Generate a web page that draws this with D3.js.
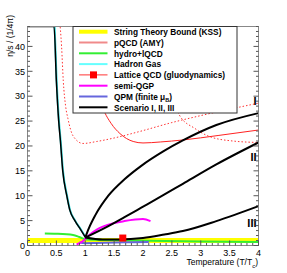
<!DOCTYPE html>
<html>
<head>
<meta charset="utf-8">
<script src="https://cdn.jsdelivr.net/npm/d3@7"></script>
<style>
  body { margin: 0; background: #fff; }
  text { font-family: "Liberation Sans", Arial, sans-serif; }
</style>
</head>
<body>
<div id="chart"></div>
<script>
// curves: [T/Tc, eta/s in units of 1/4pi]
const kssBound = [[0, 1], [4, 1]];
const hadronGas = [[0, 44], [0.46, 44], [0.5, 33], [0.54, 25], [0.57, 21], [0.61, 15], [0.68, 10], [0.73, 7.2], [0.82, 5], [0.92, 3.2], [1.0, 1.7]];
const hadronGasCyan = [[0.47, 44], [0.505, 33], [0.545, 25], [0.575, 21], [0.615, 15], [0.685, 10], [0.735, 7.2], [0.825, 5], [0.925, 3.2], [1.005, 1.7]];
const hydroLqcd = [[0.3, 2.4], [0.5, 2.35], [0.79, 2.1], [0.9, 1.7], [1.02, 1.2], [1.5, 1.1], [2.4, 0.9], [3, 0.8], [4, 0.7]];
const semiQgp = [[0.85, 0.2], [0.95, 0.8], [1.08, 2.2], [1.2, 3.2], [1.4, 4.2], [1.68, 4.9], [2.0, 5.3], [2.13, 4.9]];
const qpm = [[0.9, 0.6], [1.0, 0.45], [1.2, 0.5], [1.5, 0.6], [1.8, 0.65], [2.1, 0.7]];
const latticePoints = [[1.65, 1.5]];
const pqcdDotted = [[0.55, 46], [0.59, 40], [0.62, 33], [0.66, 28], [0.70, 25.5], [0.79, 22], [0.96, 20.5], [1.2, 20.9], [1.5, 21.6], [1.94, 22.9], [2.5, 24.7], [3, 26.1], [4, 28.6]];
const pqcdDotted2 = [[2.35, 34], [2.5, 29.5], [2.63, 26.2], [2.9, 23.5], [3.15, 21.9], [3.55, 21], [4, 20.7]];
const pqcdSolid = [[1.15, 34], [1.31, 27.5], [1.45, 24.5], [1.6, 22.5], [1.83, 20.9], [2.0, 20.6], [2.3, 20.8], [2.69, 21.2], [3.3, 22.1], [4, 23.2]];
const scenarioI = [[1.0, 1.6], [1.06, 3.4], [1.17, 6.0], [1.4, 10.0], [1.68, 13.3], [1.97, 16.0], [2.35, 18.9], [2.69, 21.1], [3.27, 24.2], [4, 26.6]];
const scenarioII = [[1.0, 1.6], [1.4, 3.9], [1.68, 5.7], [1.97, 7.6], [2.35, 10.1], [2.69, 12.4], [3.27, 16.3], [4, 20.7]];
const scenarioIII = [[1.0, 1.6], [1.3, 1.2], [1.6, 1.2], [2.0, 1.5], [2.37, 2.2], [2.69, 2.9], [3.27, 4.9], [4, 7.9]];
const scenarioLabels = [["I", 28.2], ["II", 17.0], ["III", 3.7]];

const xTicks = [0, 0.5, 1, 1.5, 2, 2.5, 3, 3.5, 4];
const yTicks = [0, 5, 10, 15, 20, 25, 30, 35, 40];

const legendItems = [
  { label: "String Theory Bound (KSS)", color: "#ffff00", width: 4 },
  { label: "pQCD (AMY)", color: "#f08a8a", width: 2 },
  { label: "hydro+lQCD", color: "#33ee33", width: 2 },
  { label: "Hadron Gas", color: "#66ffff", width: 2 },
  { label: "Lattice QCD (gluodynamics)", color: "#ff3333", width: 1, marker: true },
  { label: "semi-QGP", color: "#ff00ff", width: 2 },
  { label: "QPM (finite \u03bc", sub: "B", after: ")", color: "#6666dd", width: 2 },
  { label: "Scenario I, II, III", color: "#000000", width: 2 }
];

const width = 287, height = 273;
const x = d3.scaleLinear().domain([0, 4]).range([27.5, 258.5]);
const y = d3.scaleLinear().domain([0, 44]).range([245.5, 26.5]);

const svg = d3.select("#chart").append("svg")
  .attr("width", width)
  .attr("height", height);

svg.append("clipPath").attr("id", "clip")
  .append("rect")
  .attr("x", x(0)).attr("y", y(44))
  .attr("width", x(4) - x(0)).attr("height", y(0) - y(44));

const line = d3.line().x(d => x(d[0])).y(d => y(d[1])).curve(d3.curveMonotoneX);
const plot = svg.append("g").attr("clip-path", "url(#clip)");

const drawCurve = (data, color, w, dash) => {
  plot.append("path")
    .datum(data)
    .attr("d", line)
    .attr("fill", "none")
    .attr("stroke", color)
    .attr("stroke-width", w)
    .attr("stroke-dasharray", dash || null);
};

// red pQCD curves sit behind everything
drawCurve(pqcdDotted, "#ff3333", 1, "1.5,2");
drawCurve(pqcdDotted2, "#ff3333", 1, "1.5,2");
drawCurve(pqcdSolid, "#ff2222", 1);

drawCurve(kssBound, "#ffff00", 5);
drawCurve(hydroLqcd, "#33ee33", 2);
drawCurve(qpm, "#6666dd", 2);
drawCurve(semiQgp, "#ff00ff", 2);
drawCurve(hadronGasCyan, "#33dddd", 2);
drawCurve(hadronGas, "#000000", 1.5);
drawCurve(scenarioI, "#000000", 2);
drawCurve(scenarioII, "#000000", 2);
drawCurve(scenarioIII, "#000000", 2);

plot.selectAll("rect.lat")
  .data(latticePoints)
  .enter().append("rect")
  .attr("class", "lat")
  .attr("x", d => x(d[0]) - 3.5)
  .attr("y", d => y(d[1]) - 3.5)
  .attr("width", 7).attr("height", 7)
  .attr("fill", "#ff0000");

svg.selectAll("text.scen")
  .data(scenarioLabels)
  .enter().append("text")
  .attr("class", "scen")
  .attr("x", 256.5)
  .attr("y", d => y(d[1]))
  .attr("text-anchor", "end")
  .attr("font-size", 11)
  .attr("font-weight", "bold")
  .text(d => d[0]);

// frame
svg.append("rect")
  .attr("x", x(0)).attr("y", y(44))
  .attr("width", x(4) - x(0)).attr("height", y(0) - y(44))
  .attr("fill", "none")
  .attr("stroke", "#888")
  .attr("stroke-width", 1);

// ticks (inside the frame, ROOT style)
const ticks = svg.append("g").attr("stroke", "#555").attr("stroke-width", 1);
d3.range(0, 4.001, 0.1).forEach(v => {
  const major = Math.abs(v * 2 - Math.round(v * 2)) < 1e-6;
  ticks.append("line")
    .attr("x1", x(v)).attr("x2", x(v))
    .attr("y1", y(0)).attr("y2", y(0) - (major ? 5 : 2.5));
});
d3.range(0, 44.001, 1).forEach(v => {
  const major = v % 5 === 0;
  const len = major ? 5 : 2.5;
  ticks.append("line")
    .attr("x1", x(0)).attr("x2", x(0) + len)
    .attr("y1", y(v)).attr("y2", y(v));
  ticks.append("line")
    .attr("x1", x(4)).attr("x2", x(4) - len)
    .attr("y1", y(v)).attr("y2", y(v));
});

svg.selectAll("text.xt")
  .data(xTicks)
  .enter().append("text")
  .attr("class", "xt")
  .attr("x", d => x(d))
  .attr("y", 256)
  .attr("text-anchor", "middle")
  .attr("font-size", 9)
  .text(d => d);

svg.selectAll("text.yt")
  .data(yTicks)
  .enter().append("text")
  .attr("class", "yt")
  .attr("x", 25)
  .attr("y", d => y(d) + 3.3)
  .attr("text-anchor", "end")
  .attr("font-size", 9)
  .text(d => d);

// axis titles
const xTitle = svg.append("text")
  .attr("x", 258)
  .attr("y", 264.5)
  .attr("text-anchor", "end")
  .attr("font-size", 8.5);
xTitle.append("tspan").text("Temperature (T/T");
xTitle.append("tspan").attr("font-size", 6).attr("dy", 3).text("c");
xTitle.append("tspan").attr("dy", -3).text(")");

svg.append("text")
  .attr("transform", "translate(13,15) rotate(-90)")
  .attr("text-anchor", "end")
  .attr("font-size", 8.5)
  .text("\u03b7/s / (1/4\u03c0)");

// legend
const lg = svg.append("g");
lg.append("rect")
  .attr("x", 73).attr("y", 26.5)
  .attr("width", 164).attr("height", 86.5)
  .attr("fill", "#fff")
  .attr("stroke", "#333")
  .attr("stroke-width", 1);

legendItems.forEach((d, i) => {
  const cy = 31.7 + i * 10.8;
  lg.append("line")
    .attr("x1", 79).attr("x2", 107.5)
    .attr("y1", cy).attr("y2", cy)
    .attr("stroke", d.color)
    .attr("stroke-width", d.width);
  if (d.marker) {
    lg.append("rect")
      .attr("x", 90).attr("y", cy - 3.5)
      .attr("width", 7).attr("height", 7)
      .attr("fill", "#ff0000");
  }
  const t = lg.append("text")
    .attr("x", 114)
    .attr("y", cy + 3.2)
    .attr("font-size", 8.3)
    .attr("font-weight", "bold");
  t.append("tspan").text(d.label);
  if (d.sub) {
    t.append("tspan").attr("font-size", 5.5).attr("dy", 2.5).text(d.sub);
    t.append("tspan").attr("dy", -2.5).text(d.after);
  }
});
</script>
</body>
</html>
